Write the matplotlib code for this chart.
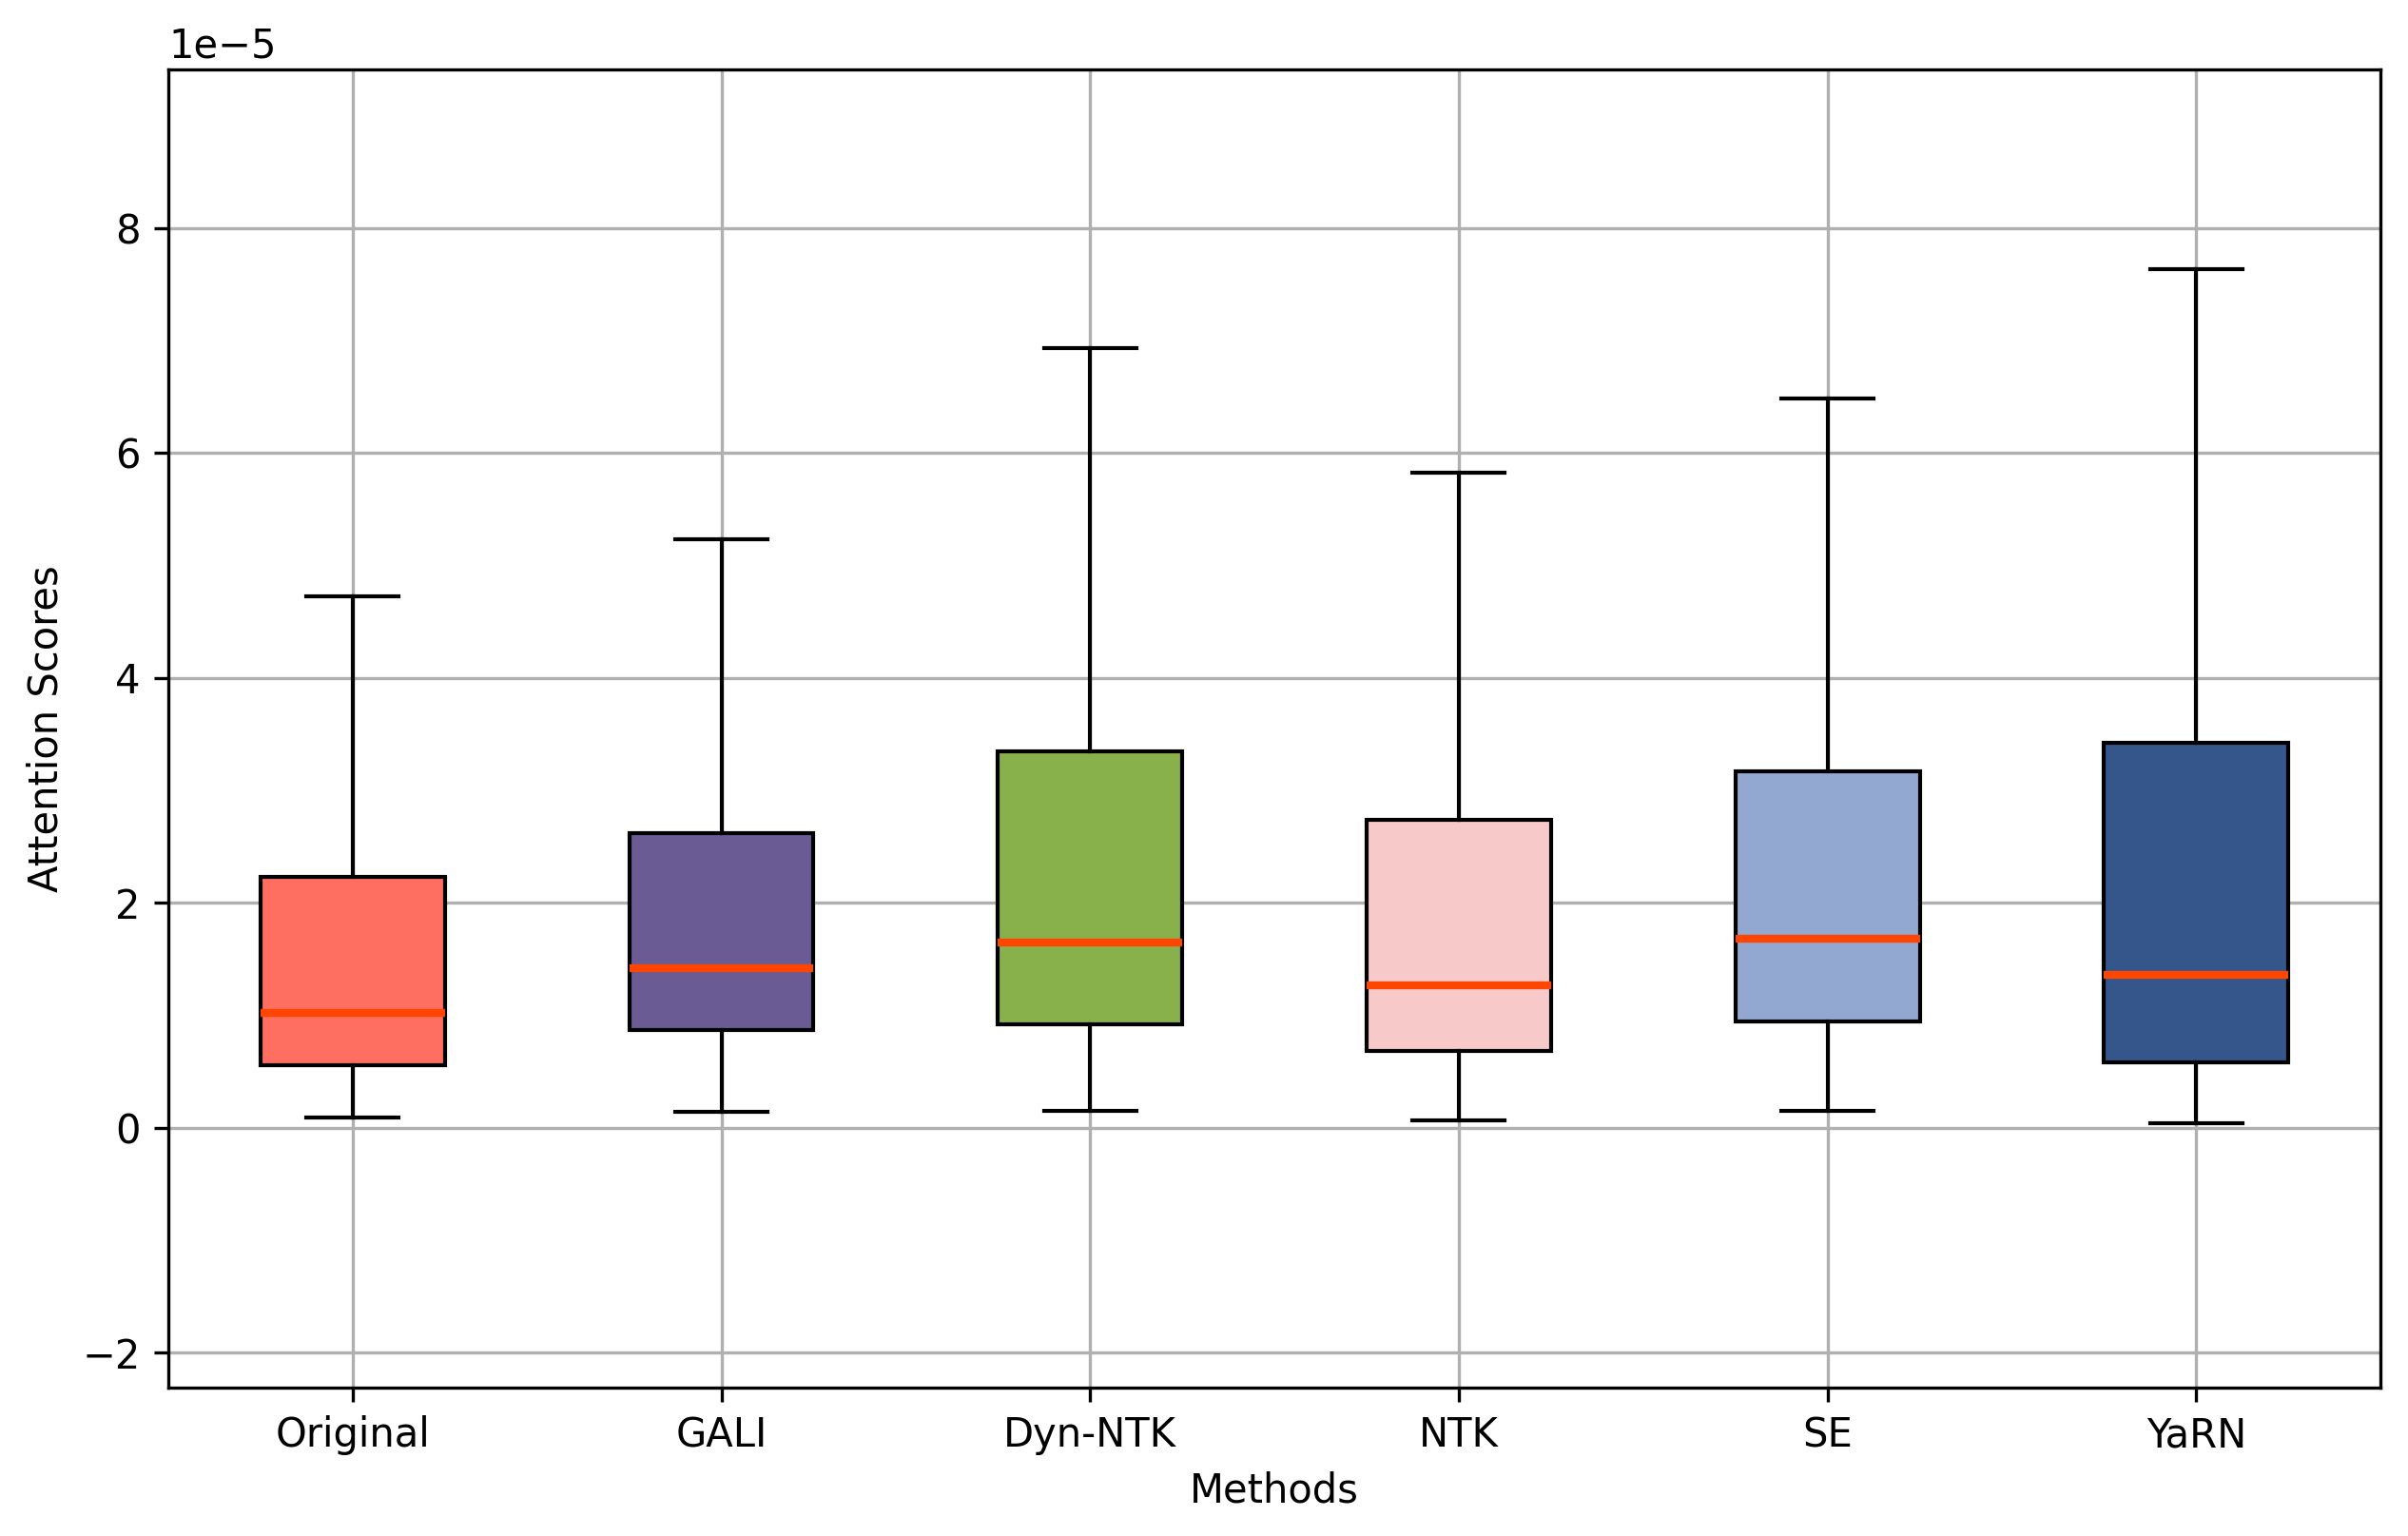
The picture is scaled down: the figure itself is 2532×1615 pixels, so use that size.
import matplotlib
matplotlib.use("Agg")
import matplotlib.pyplot as plt

# valeurs (unite 1e-5)
methodes = ["Original", "GALI", "Dyn-NTK", "NTK", "SE", "YaRN"]
moustache_basse = [0.09, 0.14, 0.155, 0.063, 0.154, 0.041]
q1 = [0.56, 0.87, 0.92, 0.68, 0.95, 0.585]
mediane = [1.02, 1.42, 1.65, 1.27, 1.68, 1.36]
q3 = [2.23, 2.62, 3.35, 2.74, 3.17, 3.42]
moustache_haute = [4.73, 5.23, 6.93, 5.83, 6.49, 7.64]
couleurs = ["#FF6F61", "#6B5B95", "#88B04B", "#F7CAC9", "#92A8D1", "#34568B"]

echelle = 1e-5
stats = []
for i in range(len(methodes)):
    stats.append({
        "label": methodes[i],
        "whislo": moustache_basse[i] * echelle,
        "q1": q1[i] * echelle,
        "med": mediane[i] * echelle,
        "q3": q3[i] * echelle,
        "whishi": moustache_haute[i] * echelle,
        "fliers": [],
    })

fig, ax = plt.subplots(figsize=(2532 / 300, 1615 / 300), dpi=300)
fig.subplots_adjust(left=0.0699, right=0.9886, bottom=0.0966, top=0.955)

ax.grid(True)
boites = ax.bxp(stats, patch_artist=True, showfliers=False,
                medianprops=dict(color="#FF4500", linewidth=2))
for boite, c in zip(boites["boxes"], couleurs):
    boite.set_facecolor(c)

ax.set_xlim(0.5, 6.5)
ax.set_ylim(-2.31e-5, 9.415e-5)
ax.set_xlabel("Methods")
ax.set_ylabel("Attention Scores")

fig.savefig("out.png", dpi=300)
